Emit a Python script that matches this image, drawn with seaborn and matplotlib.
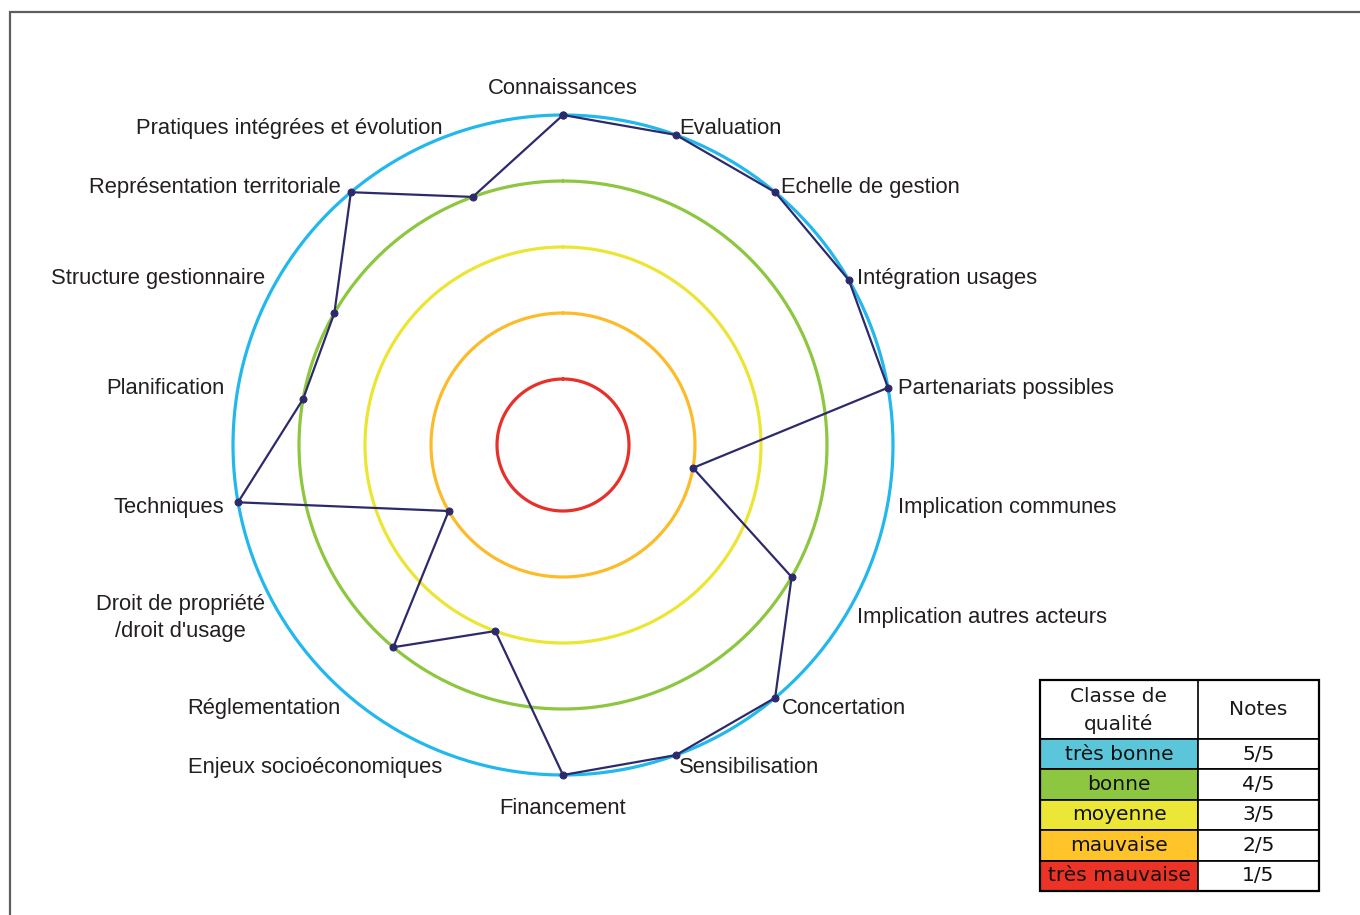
import numpy as np
import pandas as pd
import matplotlib
matplotlib.use("Agg")
import matplotlib.pyplot as plt
import matplotlib.transforms as mtransforms
import seaborn as sns
from matplotlib.patches import Rectangle

# Critères évalués (sens horaire à partir du haut)
criteres = [
    "Connaissances", "Evaluation", "Echelle de gestion", "Intégration usages",
    "Partenariats possibles", "Implication communes", "Implication autres acteurs",
    "Concertation", "Sensibilisation", "Financement", "Enjeux socioéconomiques",
    "Réglementation", "Droit de propriété\n/droit d'usage", "Techniques",
    "Planification", "Structure gestionnaire", "Représentation territoriale",
    "Pratiques intégrées et évolution",
]
notes = [5, 5, 5, 5, 5, 2, 4, 5, 5, 5, 3, 4, 2, 5, 4, 4, 5, 4]

# Classes de qualité
classes = ["très bonne", "bonne", "moyenne", "mauvaise", "très mauvaise"]
niveaux = [5, 4, 3, 2, 1]
niveaux_txt = ["5/5", "4/5", "3/5", "2/5", "1/5"]
couleurs_anneaux = ["#22B8EC", "#8DC63F", "#ECE534", "#FDBB2A", "#E8302A"]
couleurs_legende = ["#5BC6D9", "#8DC641", "#ECE737", "#FEC42A", "#EC3325"]

sns.set_theme(style="white")
plt.rcParams["font.family"] = ["Liberation Sans", "DejaVu Sans"]

W, H = 1360, 915
fig = plt.figure(figsize=(W / 100, H / 100), dpi=100)
fig.patch.set_facecolor("white")

# Radar axes: centre at (563, 445) px, radius 5 -> 330 px
rmax = 5.5
rad_px = 330 * rmax / 5
cx, cy = 563, 445
ax = fig.add_axes([(cx - rad_px) / W, (H - cy - rad_px) / H, 2 * rad_px / W, 2 * rad_px / H],
                  projection="polar")
ax.set_theta_zero_location("N")
ax.set_theta_direction(-1)
ax.set_ylim(0, rmax)
ax.axis("off")

# Quality rings
t_fin = np.linspace(0, 2 * np.pi, 400)
for niv, col in zip(niveaux, couleurs_anneaux):
    anneau = pd.DataFrame({"theta": t_fin, "r": np.full_like(t_fin, niv, dtype=float)})
    sns.lineplot(data=anneau, x="theta", y="r", ax=ax, sort=False, color=col,
                 linewidth=2.3, estimator=None, zorder=2, solid_capstyle="round")

# Evaluation polygon
n = len(criteres)
angles = np.arange(n) * 2 * np.pi / n
df = pd.DataFrame({"theta": np.append(angles, angles[0]), "note": notes + notes[:1]})
sns.lineplot(data=df, x="theta", y="note", ax=ax, sort=False, estimator=None,
             color="#2D2A6C", linewidth=1.6, marker="o", markersize=5,
             markeredgecolor="#2D2A6C", zorder=5)
ax.set_xlabel("")
ax.set_ylabel("")

# Criterion labels
fs_lab = 15.8
lab_col = "#231F20"
tr_right = mtransforms.offset_copy(ax.transData, fig=fig, x=0, y=-3, units="dots")
tr_left = mtransforms.offset_copy(ax.transData, fig=fig, x=-4, y=-3, units="dots")
for ang, lab in zip(angles, criteres):
    deg = np.degrees(ang) % 360
    if np.isclose(deg, 0):
        ax.text(ang, 5.24, lab, ha="center", va="bottom", fontsize=fs_lab, color=lab_col)
    elif np.isclose(deg, 180):
        ax.text(ang, 5.30, lab, ha="center", va="top", fontsize=fs_lab, color=lab_col,
                transform=tr_right)
    elif deg < 180:
        ax.text(ang, 5.15, lab, ha="left", va="center", fontsize=fs_lab, color=lab_col,
                transform=tr_right)
    else:
        ax.text(ang, 5.15, lab, ha="right", va="center", fontsize=fs_lab, color=lab_col,
                multialignment="center", linespacing=1.35, transform=tr_left)

# Overlay in pixel coordinates for the frame and quality table
ov = fig.add_axes([0, 0, 1, 1], zorder=-1)
ov.set_xlim(0, W)
ov.set_ylim(H, 0)
ov.axis("off")
ov.plot([10, 10, W], [H, 12, 12], color="#5E5E5E", linewidth=1.6, solid_joinstyle="miter")

ov2 = fig.add_axes([0, 0, 1, 1], zorder=3)
ov2.set_xlim(0, W)
ov2.set_ylim(H, 0)
ov2.axis("off")
ov2.patch.set_alpha(0)

x0, xm, x1 = 1040, 1198, 1319
y_top, y_head = 680, 739
row_h = (891 - y_head) / len(classes)
fs_leg = 14.5
leg_font = ["DejaVu Sans"]
ov2.add_patch(Rectangle((x0, y_top), x1 - x0, y_head - y_top, facecolor="white",
                        edgecolor="black", linewidth=1.2))
ov2.plot([xm, xm], [y_top, y_head], color="black", linewidth=1.2)
ov2.text((x0 + xm) / 2, (y_top + y_head) / 2 + 1, "Classe de\nqualité", ha="center",
         va="center", fontsize=fs_leg, family=leg_font, color="#1A1A1A", linespacing=1.45)
ov2.text((xm + x1) / 2, (y_top + y_head) / 2, "Notes", ha="center", va="center",
         fontsize=fs_leg, family=leg_font, color="#1A1A1A")
for i, (cl, nt, col) in enumerate(zip(classes, niveaux_txt, couleurs_legende)):
    y = y_head + i * row_h
    ov2.add_patch(Rectangle((x0, y), xm - x0, row_h, facecolor=col, edgecolor="black",
                            linewidth=1.2))
    ov2.add_patch(Rectangle((xm, y), x1 - xm, row_h, facecolor="white", edgecolor="black",
                            linewidth=1.2))
    ov2.text((x0 + xm) / 2, y + row_h / 2, cl, ha="center", va="center",
             fontsize=fs_leg, family=leg_font, color="#111111")
    ov2.text((xm + x1) / 2, y + row_h / 2, nt, ha="center", va="center",
             fontsize=fs_leg, family=leg_font, color="#111111")
ov2.add_patch(Rectangle((x0, y_top), x1 - x0, 891 - y_top, facecolor="none",
                        edgecolor="black", linewidth=1.6))

fig.savefig("out.png", dpi=100)
